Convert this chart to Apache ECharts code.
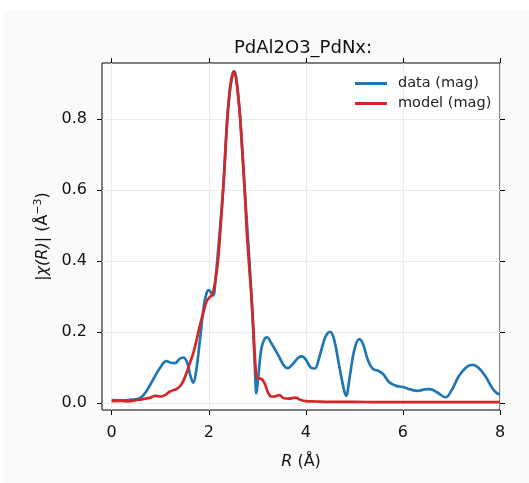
<!DOCTYPE html>
<html>
<head>
<meta charset="utf-8">
<script src="https://cdn.jsdelivr.net/npm/echarts@6/dist/echarts.min.js"></script>
<style>
  html, body { margin: 0; padding: 0; background: #ffffff; }
  #main { width: 529px; height: 483px; }
</style>
</head>
<body>
<div id="main"></div>
<script>
// R values (Å) and |chi(R)| for the measured data
var dataR = [0.00, 0.20, 0.40, 0.58, 0.70, 0.85, 1.00, 1.13, 1.22, 1.30, 1.40, 1.47, 1.55, 1.62, 1.68, 1.74,
    1.82, 1.90, 1.96, 2.00, 2.05, 2.09, 2.14, 2.21, 2.30, 2.38, 2.44, 2.50, 2.52, 2.56, 2.61, 2.65,
    2.74, 2.81, 2.88, 2.93, 2.96, 2.98, 3.01, 3.08, 3.14, 3.20, 3.28, 3.43, 3.55, 3.63, 3.72, 3.85,
    3.92, 4.00, 4.10, 4.18, 4.28, 4.40, 4.50, 4.58, 4.68, 4.78, 4.83, 4.90, 5.00, 5.10, 5.18, 5.28,
    5.38, 5.50, 5.60, 5.72, 5.86, 6.00, 6.15, 6.30, 6.45, 6.55, 6.70, 6.88, 7.00, 7.15, 7.30, 7.43,
    7.55, 7.70, 7.85, 7.94, 8.00];
var dataMag = [0.008, 0.007, 0.009, 0.013, 0.030, 0.065, 0.100, 0.118, 0.113, 0.112, 0.124, 0.128, 0.115, 0.077, 0.057, 0.090,
    0.180, 0.275, 0.312, 0.318, 0.310, 0.303, 0.350, 0.459, 0.610, 0.797, 0.885, 0.930, 0.935, 0.920, 0.860, 0.797,
    0.600, 0.459, 0.300, 0.160, 0.070, 0.027, 0.060, 0.150, 0.178, 0.185, 0.170, 0.135, 0.105, 0.098, 0.108, 0.128,
    0.131, 0.122, 0.100, 0.097, 0.130, 0.185, 0.200, 0.180, 0.110, 0.040, 0.020, 0.070, 0.150, 0.180, 0.165, 0.120,
    0.096, 0.090, 0.080, 0.058, 0.048, 0.045, 0.038, 0.034, 0.038, 0.039, 0.030, 0.016, 0.035, 0.075, 0.100, 0.107,
    0.100, 0.075, 0.040, 0.027, 0.025];

// R values and |chi(R)| for the fitted model
var modelR = [0.00, 0.20, 0.35, 0.50, 0.62, 0.80, 0.90, 1.00, 1.10, 1.20, 1.35, 1.45, 1.54, 1.61, 1.68, 1.75,
    1.82, 1.89, 1.95, 2.02, 2.07, 2.13, 2.19, 2.24, 2.30, 2.38, 2.44, 2.49, 2.52, 2.56, 2.61, 2.65,
    2.74, 2.78, 2.84, 2.88, 2.93, 2.97, 3.00, 3.08, 3.15, 3.22, 3.29, 3.35, 3.45, 3.55, 3.65, 3.78,
    3.90, 4.00, 4.20, 4.50, 5.00, 5.50, 6.00, 7.00, 8.00];
var modelMag = [0.005, 0.006, 0.004, 0.008, 0.010, 0.015, 0.020, 0.018, 0.022, 0.032, 0.040, 0.055, 0.084, 0.112, 0.140, 0.178,
    0.220, 0.255, 0.285, 0.298, 0.305, 0.340, 0.400, 0.490, 0.610, 0.797, 0.890, 0.928, 0.932, 0.915, 0.860, 0.797,
    0.600, 0.490, 0.370, 0.300, 0.180, 0.090, 0.070, 0.068, 0.055, 0.030, 0.018, 0.018, 0.022, 0.013, 0.012, 0.015,
    0.008, 0.005, 0.004, 0.003, 0.003, 0.002, 0.002, 0.002, 0.002];

var xTicks = [0, 2, 4, 6, 8];
var yTicks = [0, 0.2, 0.4, 0.6, 0.8];

function pairs(xs, ys) {
    var out = [];
    for (var i = 0; i < xs.length; i++) {
        out.push([xs[i], ys[i]]);
    }
    return out;
}

var myChart = echarts.init(document.getElementById('main'));

var tickStyle = { show: true, length: 5, inside: false, lineStyle: { color: '#000', width: 1 } };
var gridLine = { show: true, lineStyle: { color: '#ebebeb', width: 1 } };
var noLine = { show: false, onZero: false };

var option = {
    animation: false,
    backgroundColor: '#ffffff',
    graphic: [{
        type: 'rect',
        left: 4, top: 10,
        shape: { width: 525, height: 473 },
        style: { fill: '#fafaf9' },
        z: -10
    }],
    title: {
        text: 'PdAl2O3_PdNx:',
        left: 298,
        textAlign: 'center',
        top: 34,
        textStyle: { fontFamily: 'DejaVu Sans', fontSize: 18, fontWeight: 'normal', color: '#111' }
    },
    legend: {
        orient: 'vertical',
        left: 350,
        top: 71,
        icon: 'rect',
        itemWidth: 32,
        itemHeight: 3,
        itemGap: 5,
        textStyle: { fontFamily: 'DejaVu Sans', fontSize: 14.5, color: '#222', padding: [0, 0, 0, 6] },
        data: ['data (mag)', 'model (mag)']
    },
    grid: {
        left: 102, top: 63, right: 29, bottom: 73,
        show: true,
        backgroundColor: '#ffffff',
        borderColor: '#000',
        borderWidth: 1
    },
    xAxis: [{
        type: 'value',
        position: 'bottom',
        min: -0.2, max: 8,
        axisLine: noLine,
        axisTick: Object.assign({ customValues: xTicks }, tickStyle),
        splitLine: gridLine,
        axisLabel: {
            customValues: xTicks, margin: 15,
            fontFamily: 'DejaVu Sans', fontSize: 16, color: '#111'
        },
        name: '{i|R} (Å)',
        nameLocation: 'middle',
        nameGap: 44,
        nameTextStyle: {
            fontFamily: 'DejaVu Sans', fontSize: 16, color: '#111',
            rich: { i: { fontFamily: 'DejaVu Sans', fontStyle: 'italic', fontSize: 16, color: '#111' } }
        }
    }, {
        type: 'value',
        position: 'top',
        min: -0.2, max: 8,
        axisLine: noLine,
        axisTick: Object.assign({ customValues: xTicks }, tickStyle),
        splitLine: { show: false },
        axisLabel: { show: false }
    }],
    yAxis: [{
        type: 'value',
        position: 'left',
        min: -0.02, max: 0.958,
        axisLine: noLine,
        axisTick: Object.assign({ customValues: yTicks }, tickStyle),
        splitLine: gridLine,
        axisLabel: {
            customValues: yTicks, margin: 15,
            fontFamily: 'DejaVu Sans', fontSize: 16, color: '#111',
            formatter: function (v) { return v.toFixed(1); }
        },
        name: '|{i|χ(R)}| (Å{sup|−3})',
        nameLocation: 'middle',
        nameRotate: 90,
        nameGap: 47,
        nameTextStyle: {
            fontFamily: 'DejaVu Sans', fontSize: 16, color: '#111',
            rich: {
                i: { fontFamily: 'DejaVu Sans', fontStyle: 'italic', fontSize: 16, color: '#111' },
                sup: { fontFamily: 'DejaVu Sans', fontSize: 11, color: '#111', verticalAlign: 'top', padding: [0, 0, 9, 0] }
            }
        }
    }, {
        type: 'value',
        position: 'right',
        min: -0.02, max: 0.958,
        axisLine: noLine,
        axisTick: Object.assign({ customValues: yTicks }, tickStyle),
        splitLine: { show: false },
        axisLabel: { show: false }
    }],
    series: [{
        name: 'data (mag)',
        type: 'line',
        xAxisIndex: 0,
        yAxisIndex: 0,
        symbol: 'none',
        smooth: 0.4,
        lineStyle: { color: '#1f77b4', width: 2.7 },
        itemStyle: { color: '#1f77b4' },
        data: pairs(dataR, dataMag)
    }, {
        name: 'model (mag)',
        type: 'line',
        xAxisIndex: 0,
        yAxisIndex: 0,
        symbol: 'none',
        smooth: 0.4,
        lineStyle: { color: '#d62728', width: 2.7 },
        itemStyle: { color: '#d62728' },
        data: pairs(modelR, modelMag)
    }]
};

myChart.setOption(option);
</script>
</body>
</html>
